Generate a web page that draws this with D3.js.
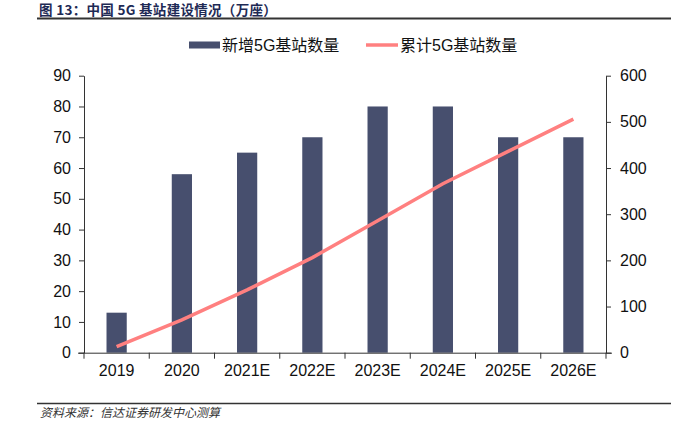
<!DOCTYPE html>
<html><head><meta charset="utf-8">
<script src="https://cdn.jsdelivr.net/npm/d3@7"></script>
<style>body{margin:0;background:#fff}svg{display:block}</style>
</head><body>
<svg id="c" width="690" height="423"></svg>
<script>
const categories = ["2019","2020","2021E","2022E","2023E","2024E","2025E","2026E"];
const newStations = [13,58,65,70,80,80,70,70];
const cumStations = [13,71,136,206,286,366,436,506];
const leftTicks = [0,10,20,30,40,50,60,70,80,90];
const rightTicks = [0,100,200,300,400,500,600];
const title = "图 13：中国 5G 基站建设情况（万座）";
const source = "资料来源：信达证券研发中心测算";
const legendNames = ["新增5G基站数量","累计5G基站数量"];

const svg = d3.select("#c");
const font = "'Liberation Sans', Arial, 'Noto Sans CJK SC', sans-serif";
const L = 84, R = 606, T = 75.7, B = 352.7;
const x = d3.scaleBand().domain(categories).range([L, R]).paddingInner(0.69).paddingOuter(0.345);
const xb = d3.scaleBand().domain(categories).range([L, R]);
const yL = d3.scaleLinear().domain([0,90]).range([B, T]);
const yR = d3.scaleLinear().domain([0,600]).range([B, T]);

// title
svg.append("text").attr("x", 39).attr("y", 14.5).attr("font-family", "'Noto Sans CJK SC', sans-serif")
  .attr("font-weight", "bold").attr("font-size", 13.5).attr("letter-spacing", 0.3).attr("fill", "#1e2a55").text(title);
svg.append("line").attr("x1", 37).attr("x2", 671).attr("y1", 18.5).attr("y2", 18.5).attr("stroke", "#333").attr("stroke-width", 2);

// source
svg.append("line").attr("x1", 37).attr("x2", 671).attr("y1", 403.5).attr("y2", 403.5).attr("stroke", "#333").attr("stroke-width", 1.5);
svg.append("text").attr("x", 40).attr("y", 417).attr("font-family", "'Noto Sans CJK SC', sans-serif")
  .attr("font-style", "italic").attr("font-size", 12).attr("fill", "#333").text(source);

// bars
svg.append("g").selectAll("rect").data(categories).join("rect")
  .attr("x", d => x(d)).attr("width", x.bandwidth())
  .attr("y", (d,i) => yL(newStations[i])).attr("height", (d,i) => B - yL(newStations[i]))
  .attr("fill", "#474f6e");

// line
const line = d3.line().x((d,i) => xb(categories[i]) + xb.bandwidth()/2).y(d => yR(d));
svg.append("path").datum(cumStations).attr("d", line).attr("fill", "none")
  .attr("stroke", "#ff8080").attr("stroke-width", 3.5).attr("stroke-linecap", "butt");

// axes
const axStyle = g => {
  g.selectAll("path,line").attr("stroke", "#333");
  g.selectAll("text").attr("font-family", font).attr("font-size", 16).attr("fill", "#111");
};
svg.append("g").attr("transform", `translate(${L},0)`)
  .call(d3.axisLeft(yL).tickValues(leftTicks).tickSize(5).tickSizeOuter(0).tickPadding(8))
  .call(axStyle);
svg.append("g").attr("transform", `translate(${R},0)`)
  .call(d3.axisRight(yR).tickValues(rightTicks).tickSize(5).tickSizeOuter(0).tickPadding(9))
  .call(axStyle);
const xa = svg.append("g").attr("transform", `translate(0,${B})`)
  .call(d3.axisBottom(xb).tickSize(0).tickPadding(12))
  .call(axStyle);
xa.select(".domain").remove();
svg.append("line").attr("x1", L-6).attr("x2", R+6).attr("y1", B+0.5).attr("y2", B+0.5).attr("stroke", "#333");
svg.append("g").selectAll("line").data(d3.range(categories.length+1)).join("line")
  .attr("x1", i => L + i*xb.step()).attr("x2", i => L + i*xb.step())
  .attr("y1", B).attr("y2", B+6).attr("stroke", "#333");

// legend
const lg = svg.append("g");
lg.append("rect").attr("x", 189).attr("y", 41.5).attr("width", 31).attr("height", 7).attr("fill", "#474f6e");
lg.append("text").attr("x", 222).attr("y", 51).attr("font-family", font).attr("font-size", 16).attr("fill", "#111").text(legendNames[0]);
lg.append("line").attr("x1", 366).attr("x2", 398).attr("y1", 45).attr("y2", 45).attr("stroke", "#ff8080").attr("stroke-width", 3.5);
lg.append("text").attr("x", 400).attr("y", 51).attr("font-family", font).attr("font-size", 16).attr("fill", "#111").text(legendNames[1]);
</script>
</body></html>
